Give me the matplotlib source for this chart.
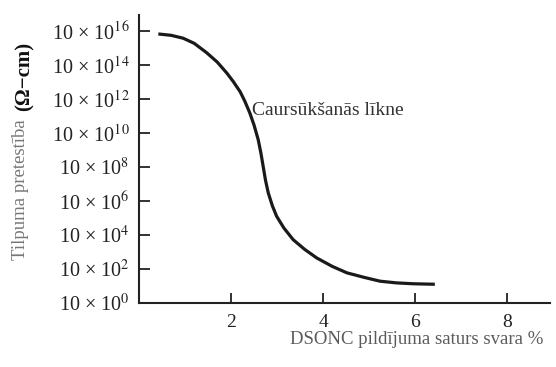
import matplotlib
matplotlib.use("Agg")
import matplotlib.pyplot as plt
import numpy as np

plt.rcParams['mathtext.fontset'] = 'stix'
plt.rcParams['font.family'] = ['Liberation Serif', 'DejaVu Serif']

# DSONC filler content (wt %) and resistivity exponent n (value = 10 x 10^n Ohm-cm)
filler_pct = [0.42, 0.7, 0.96, 1.2, 1.47, 1.7, 1.91, 2.05, 2.2, 2.3, 2.41, 2.5,
              2.59, 2.65, 2.70, 2.75, 2.81, 2.9, 2.99, 3.15, 3.35, 3.6, 3.86,
              4.2, 4.52, 4.9, 5.24, 5.6, 5.96, 6.43]
resist_exp = [15.8, 15.72, 15.55, 15.25, 14.7, 14.15, 13.5, 13.0, 12.4, 11.85, 11.15, 10.45,
              9.6, 8.8, 8.0, 7.2, 6.46, 5.7, 5.1, 4.4, 3.72, 3.15, 2.65,
              2.15, 1.77, 1.5, 1.28, 1.18, 1.13, 1.1]
ytick_exps = [0, 2, 4, 6, 8, 10, 12, 14, 16]
xticks = [2, 4, 6, 8]

resistivity = [10 * 10.0 ** n for n in resist_exp]

fig = plt.figure(figsize=(5.56, 3.67), dpi=100)
ax = fig.add_axes([0.25, 0.1744, 0.739, 0.785])
ax.plot(filler_pct, resistivity, color='#1a1a1a', lw=2.3, solid_capstyle='butt')
ax.set_yscale('log')
ax.set_ylim(10.0, 10 * 10.0 ** 16.92)
ax.set_xlim(0, 8.93)

ax.set_yticks([10 * 10.0 ** e for e in ytick_exps])
ax.set_yticklabels(['10 × 10$^{%d}$' % e for e in ytick_exps])
ax.yaxis.set_minor_locator(matplotlib.ticker.NullLocator())
ax.set_xticks(xticks)
ax.set_xticklabels([str(v) for v in xticks])

for s in ['top', 'right']:
    ax.spines[s].set_visible(False)
for s in ['left', 'bottom']:
    ax.spines[s].set_linewidth(1.5)
    ax.spines[s].set_color('#222222')

ax.tick_params(axis='y', direction='in', length=8, width=1.3, pad=7,
               labelsize=14.5, colors='#222222')
ax.tick_params(axis='x', direction='in', length=7, width=1.3, pad=8,
               labelsize=14, colors='#222222')

ax.text(2.45, 10 * 10.0 ** 11.3, 'Caursūkšanās līkne', fontsize=14,
        color='#333333', va='center', ha='left')

fig.text(0.978, 1 - 339 / 367, 'DSONC pildījuma saturs svara %', fontsize=13.5,
         color='#5a5a5a', ha='right', va='center')

fig.text(21 / 556, 1 - 190 / 367, 'Tilpuma pretestība', rotation=90, fontsize=13.5,
         color='#777777', ha='center', va='center')
fig.text(25 / 556, 1 - 76 / 367, '(Ω−cm)', rotation=90, fontsize=15,
         color='#111111', fontweight='bold', ha='center', va='center')

fig.savefig('out.png', dpi=100)
